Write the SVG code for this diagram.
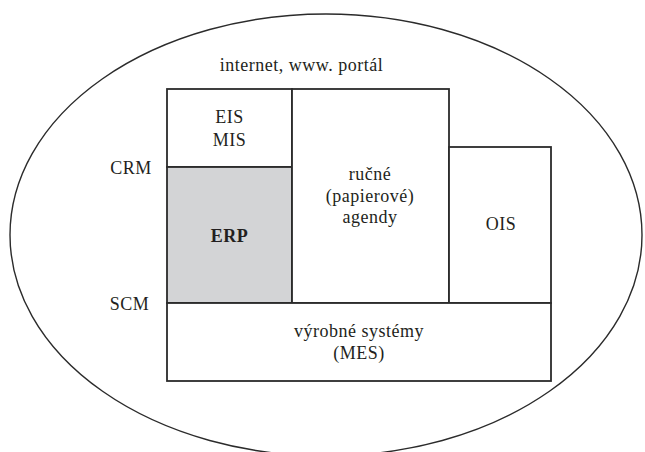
<svg xmlns="http://www.w3.org/2000/svg" width="645" height="452" viewBox="0 0 645 452">
<style>
.bx{fill:#ffffff;stroke:#2b2b2b;stroke-width:1.8}
.erp{fill:#d3d4d6;stroke:#2b2b2b;stroke-width:1.8}
.t{font-family:"Liberation Serif","DejaVu Serif",serif;font-size:18px;letter-spacing:0.5px;fill:#231f20;text-anchor:middle}
.b{font-weight:bold}
</style>
<rect width="645" height="452" fill="#ffffff"/>
<g id="internet">
<ellipse cx="326" cy="235" rx="316" ry="221" fill="none" stroke="#2b2b2b" stroke-width="1.4"/>
<text class="t" x="301.5" y="71">internet, www. portál</text>
</g>
<g id="eis-mis">
<rect class="bx" x="167" y="89" width="125" height="78"/>
<text class="t" x="229.5" y="123">EIS</text>
<text class="t" x="229.5" y="146">MIS</text>
</g>
<g id="erp">
<rect class="erp" x="167" y="167" width="125" height="136"/>
<text class="t b" x="229.5" y="242">ERP</text>
</g>
<g id="rucne">
<rect class="bx" x="292" y="89" width="157" height="214"/>
<text class="t" x="370" y="179.5">ručné</text>
<text class="t" x="370" y="201.5">(papierové)</text>
<text class="t" x="370" y="222.5">agendy</text>
</g>
<g id="ois">
<rect class="bx" x="449" y="147" width="102" height="156"/>
<text class="t" x="501" y="230">OIS</text>
</g>
<g id="mes">
<rect class="bx" x="167" y="303" width="384" height="78"/>
<text class="t" x="359" y="337">výrobné systémy</text>
<text class="t" x="359" y="359">(MES)</text>
</g>
<g id="crm">
<text class="t" x="131" y="173.5">CRM</text>
</g>
<g id="scm">
<text class="t" x="129.5" y="310">SCM</text>
</g>
<g id="connectors"></g>
</svg>
